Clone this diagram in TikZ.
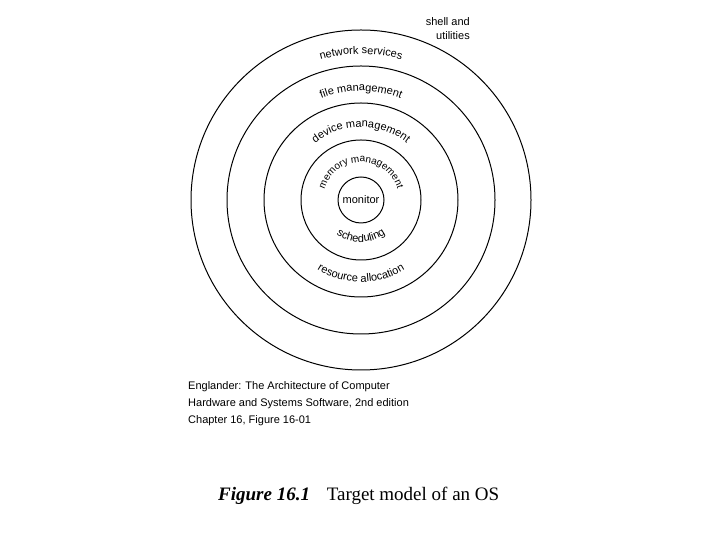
\documentclass[tikz,border=0pt]{standalone}
\usepackage{fontspec}
\setmainfont{Liberation Sans}
\newfontfamily\capfont{Liberation Serif}
\usetikzlibrary{decorations.text}
\tikzset{
  ring/.style={draw=black, line width=1pt, circle, inner sep=0pt},
  lbl/.style={font=\fontsize{11}{13}\selectfont, inner sep=0pt},
  curved/.style={decorate, decoration={text along path, text align=center, text={|\fontsize{11}{13}\selectfont|#1}}},
  curvedsmall/.style={decorate, decoration={text along path, text align=center, text={|\fontsize{10}{12}\selectfont|#1}}}
}
\begin{document}
\begin{tikzpicture}[x=1pt, y=1pt]
\useasboundingbox (0,0) rectangle (720,540);
\fill[white] (0,0) rectangle (720,540);
\coordinate (c) at (361,340);
\node[ring, minimum size=340pt] (r5) at (c) {};
\node[ring, minimum size=268pt] (r4) at (c) {};
\node[ring, minimum size=194pt] (r3) at (c) {};
\node[ring, minimum size=120pt] (r2) at (c) {};
\node[ring, minimum size=46pt, lbl] (r1) at (c) {monitor};
\begin{scope}[shift={(361,340)}]
\path[curved={network services}] (165:146) arc[start angle=165, end angle=15, radius=146];
\path[curved={file management}] (170:109) arc[start angle=170, end angle=10, radius=109];
\path[curved={device management}] (175:73) arc[start angle=175, end angle=5, radius=73];
\path[curvedsmall={memory management}] (195:38) arc[start angle=195, end angle=-15, radius=38];
\path[curved={scheduling}] (190:42) arc[start angle=190, end angle=350, radius=42];
\path[curved={resource allocation}] (195:82) arc[start angle=195, end angle=345, radius=82];
\end{scope}
\node[lbl, anchor=base east] (shell) at (470,514) {shell and};
\node[lbl, anchor=base east] (util) at (470,500) {utilities};
\node[lbl, anchor=base west] (foot1) at (188,150) {Englander: The Architecture of Computer};
\node[lbl, anchor=base west] (foot2) at (188,133) {Hardware and Systems Software, 2nd edition};
\node[lbl, anchor=base west] (foot3) at (188,116) {Chapter 16, Figure 16-01};
\node[anchor=base west, inner sep=0pt, font=\capfont\fontsize{19}{22}\selectfont] (cap) at (218,39) {\textbf{\textit{Figure 16.1}}\hspace{12pt} Target model of an OS};
\end{tikzpicture}
\end{document}
